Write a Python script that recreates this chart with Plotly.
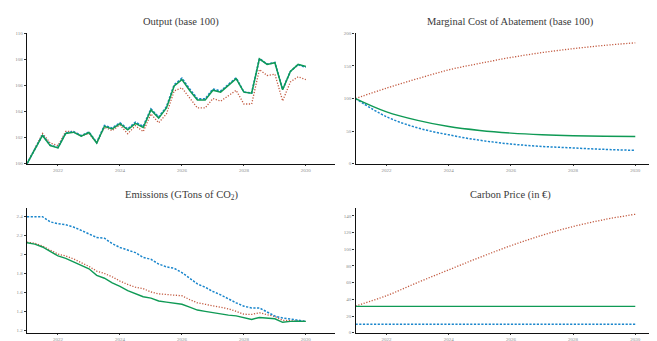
import plotly.graph_objects as go

# ---------------- data ----------------
quarters = [2021 + 0.25 * i for i in range(37)]
years = [2021, 2022, 2023, 2024, 2025, 2026, 2027, 2028, 2029, 2030]

out_green = [100, 101.1, 102.17, 101.39, 101.21, 102.32, 102.42, 102.12, 102.39,
             101.59, 102.87, 102.67, 103.07, 102.6, 103.1, 102.78, 104.13, 103.5,
             104.28, 105.96, 106.45, 105.62, 104.88, 104.88, 105.64, 105.49, 106.0,
             106.52, 105.49, 105.41, 108.05, 107.62, 107.75, 105.68, 107.07, 107.62, 107.45]
out_blue = [100, 101.12, 102.2, 101.42, 101.25, 102.36, 102.46, 102.15, 102.43,
            101.62, 102.93, 102.73, 103.14, 102.66, 103.18, 102.86, 104.2, 103.58,
            104.36, 106.05, 106.55, 105.72, 104.98, 104.98, 105.73, 105.58, 106.08,
            106.58, 105.5, 105.42, 108.06, 107.64, 107.76, 105.7, 107.08, 107.6, 107.4]
out_red = [100, 101.15, 102.32, 101.59, 101.39, 102.47, 102.47, 102.14, 102.32,
           101.59, 102.8, 102.54, 102.97, 102.3, 102.92, 102.46, 103.82, 103.14,
           103.82, 105.58, 105.83, 105.04, 104.28, 104.28, 105.0, 104.8, 105.22,
           105.63, 104.58, 104.58, 107.22, 106.77, 106.87, 104.82, 106.27, 106.67, 106.45]

mac_red = [100, 116, 130.5, 144, 154, 163, 170.5, 176.5, 181.5, 185.5]
mac_green = [100, 79.6, 66.5, 57, 51, 47, 44.5, 43, 42.2, 41.8]
mac_blue = [100, 72, 55, 44.3, 36, 30.2, 26.5, 24.2, 22, 20.5]

em_blue = [2.40, 2.40, 2.40, 2.345, 2.325, 2.315, 2.29, 2.255, 2.22, 2.18, 2.172,
           2.115, 2.075, 2.045, 2.02, 1.97, 1.95, 1.90, 1.87, 1.855, 1.81, 1.75,
           1.69, 1.655, 1.61, 1.575, 1.53, 1.49, 1.455, 1.437, 1.437, 1.39, 1.35,
           1.33, 1.32, 1.31, 1.295]
em_red = [2.13, 2.12, 2.09, 2.045, 2.005, 1.985, 1.955, 1.915, 1.875, 1.825, 1.80,
          1.765, 1.72, 1.685, 1.655, 1.64, 1.605, 1.585, 1.578, 1.578, 1.565, 1.525,
          1.49, 1.475, 1.46, 1.445, 1.427, 1.40, 1.37, 1.368, 1.386, 1.365, 1.346,
          1.305, 1.302, 1.298, 1.295]
em_green = [2.125, 2.11, 2.08, 2.03, 1.985, 1.96, 1.925, 1.885, 1.85, 1.78, 1.75,
            1.70, 1.665, 1.62, 1.585, 1.555, 1.54, 1.51, 1.498, 1.488, 1.475, 1.445,
            1.414, 1.40, 1.385, 1.368, 1.36, 1.352, 1.335, 1.315, 1.336, 1.33, 1.322,
            1.285, 1.295, 1.297, 1.295]

cp_red = [32, 44.4, 60.2, 75.3, 90.3, 104.3, 116.7, 127.2, 135.5, 141.9]
cp_green = [31.5] * 10
cp_blue = [10] * 10

titles = ["Output (base 100)", "Marginal Cost of Abatement (base 100)",
          "Emissions (GTons of CO<sub>2</sub>)", "Carbon Price (in \u20ac)"]
x_ticks = [2022, 2024, 2026, 2028, 2030]

# ---------------- styles ----------------
GREEN = "#0f9a55"
BLUE = "#1a86cc"
RED = "#c25a40"
DOT = "1.2px,1.6px"
DASH = "2.2px,1.5px"
W, H = 657, 341

fig = go.Figure()

def add(x, y, color, dash, xa, ya, width=1.5, shape="linear"):
    fig.add_trace(go.Scatter(x=x, y=y, mode="lines", xaxis=xa, yaxis=ya,
                             line=dict(color=color, dash=dash, width=width, shape=shape),
                             showlegend=False, hoverinfo="skip"))

# Output
add(quarters, out_red, RED, DOT, "x", "y", 1.3)
add(quarters, out_blue, BLUE, DASH, "x", "y", 1.7)
add(quarters, out_green, GREEN, "solid", "x", "y", 1.5)
# MAC
add(years, mac_red, RED, DOT, "x2", "y2", 1.3, "spline")
add(years, mac_blue, BLUE, DASH, "x2", "y2", 1.5, "spline")
add(years, mac_green, GREEN, "solid", "x2", "y2", 1.4, "spline")
# Emissions
add(quarters, em_red, RED, DOT, "x3", "y3", 1.3)
add(quarters, em_blue, BLUE, DASH, "x3", "y3", 1.5)
add(quarters, em_green, GREEN, "solid", "x3", "y3", 1.4)
# Carbon price
add(years, cp_red, RED, DOT, "x4", "y4", 1.3, "spline")
add(years, cp_blue, BLUE, DASH, "x4", "y4", 1.5)
add(years, cp_green, GREEN, "solid", "x4", "y4", 1.4)

left_dom = [19 / W, 327 / W]
right_dom = [347.5 / W, 656.5 / W]
top_dom = [(H - 156) / H, (H - 23.7) / H]
bot_dom = [(H - 327.5) / H, (H - 200.7) / H]

tickfont = dict(family="Liberation Serif", size=5, color="#8a8a8a")

def xaxis(dom, anchor):
    return dict(domain=dom, anchor=anchor, range=[2021, 2030.94], tickvals=x_ticks,
                showgrid=False, zeroline=False, showline=True, linecolor="#111",
                linewidth=1.3, ticks="outside", ticklen=1.5, tickcolor="#333",
                tickfont=tickfont, fixedrange=True)

def yaxis(dom, anchor, rng, tv, tt=None):
    d = dict(domain=dom, anchor=anchor, range=rng, tickvals=tv,
             showgrid=False, zeroline=False, showline=True, linecolor="#111",
             linewidth=1.3, ticks="outside", ticklen=2, tickcolor="#333",
             tickfont=tickfont, fixedrange=True)
    if tt is not None:
        d["ticktext"] = tt
    return d

fig.update_layout(
    width=W, height=H, margin=dict(l=0, r=0, t=0, b=0),
    paper_bgcolor="white", plot_bgcolor="white",
    xaxis=xaxis(left_dom, "y"),
    yaxis=yaxis(top_dom, "x", [100, 110], [100, 102, 104, 106, 108, 110]),
    xaxis2=xaxis(right_dom, "y2"),
    yaxis2=yaxis(top_dom, "x2", [0, 200], [0, 50, 100, 150, 200]),
    xaxis3=xaxis(left_dom, "y3"),
    yaxis3=yaxis(bot_dom, "x3", [1.175, 2.494], [1.2, 1.4, 1.6, 1.8, 2.0, 2.2, 2.4],
                 ["1.2", "1.4", "1.6", "1.8", "2", "2.2", "2.4"]),
    xaxis4=xaxis(right_dom, "y4"),
    yaxis4=yaxis(bot_dom, "x4", [0, 149.7], [0, 20, 40, 60, 80, 100, 120, 140]),
)

title_pos = [((left_dom[0] + left_dom[1]) / 2, (H - 12) / H),
             ((right_dom[0] + right_dom[1]) / 2, (H - 12) / H),
             ((left_dom[0] + left_dom[1]) / 2, (H - 188) / H),
             ((right_dom[0] + right_dom[1]) / 2, (H - 188) / H)]
for t, (px, py) in zip(titles, title_pos):
    fig.add_annotation(text=t, x=px, y=py, xref="paper", yref="paper",
                       showarrow=False, xanchor="center", yanchor="middle",
                       font=dict(family="Liberation Serif", size=10.5, color="#3a3a3a"))

fig.write_html("out.html")
